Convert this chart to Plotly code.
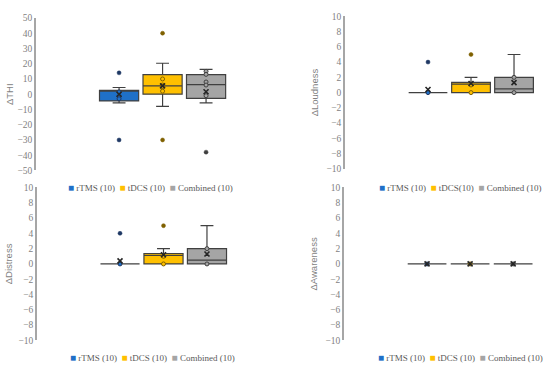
import plotly.graph_objects as go

# ---------------- data ----------------
groups = ["rTMS", "tDCS", "Combined"]
legend_labels_a = ["rTMS (10)", "tDCS (10)", "Combined (10)"]
legend_labels_b = ["rTMS (10)", "tDCS(10)", "Combined (10)"]

# ΔTHI
thi_q1 = [-4.4, 0.0, -2.7]
thi_median = [2.0, 5.5, 6.3]
thi_q3 = [2.6, 12.8, 12.8]
thi_low = [-5.7, -8.0, -5.7]
thi_up = [4.4, 20.3, 16.3]
thi_mean = [0.0, 5.5, 1.6]
thi_points = [[1.5, -1.5, -3.0], [10.0, 6.0, 5.0, 2.0], [15.0, 13.0, 8.0, 6.0, -1.0]]
thi_outliers = [[14.0, -30.0], [40.0, -30.0], [-38.0]]

# ΔLoudness
loud_q1 = [0.0, 0.0, 0.0]
loud_median = [0.0, 1.1, 0.5]
loud_q3 = [0.0, 1.35, 2.0]
loud_low = [0.0, 0.0, 0.0]
loud_up = [0.0, 2.0, 5.0]
loud_mean = [0.4, 1.2, 1.3]
loud_points = [[0.0], [0.0, 1.0], [0.0, 2.0]]
loud_outliers = [[4.0], [5.0], []]

# ΔDistress
dist_q1 = [0.0, 0.0, 0.0]
dist_median = [0.0, 1.1, 0.5]
dist_q3 = [0.0, 1.35, 2.0]
dist_low = [0.0, 0.0, 0.0]
dist_up = [0.0, 2.0, 5.0]
dist_mean = [0.4, 1.2, 1.3]
dist_points = [[0.0], [0.0, 1.0], [0.0, 2.0]]
dist_outliers = [[4.0], [5.0], []]

# ΔAwareness
aware_q1 = [0.0, 0.0, 0.0]
aware_median = [0.0, 0.0, 0.0]
aware_q3 = [0.0, 0.0, 0.0]
aware_low = [0.0, 0.0, 0.0]
aware_up = [0.0, 0.0, 0.0]
aware_mean = [0.0, 0.0, 0.0]
aware_points = [[0.0], [0.0], [0.0]]
aware_outliers = [[], [], []]

# ---------------- style ----------------
fill_colors = ["#1F70C8", "#FFC000", "#A5A5A5"]
dot_edge = ["#1F3864", "#7F6000", "#404040"]
box_line = "#404040"
axis_gray = "#A6A6A6"
text_gray = "#7F7F7F"
serif = "Liberation Serif"
sans = "Liberation Sans"

panels = [
    dict(title="ΔTHI", q1=thi_q1, med=thi_median, q3=thi_q3, lo=thi_low, up=thi_up,
         mean=thi_mean, pts=thi_points, out=thi_outliers, yr=[-50, 50], dt=10,
         xd=[36 / 550, 270 / 550], yd=[1 - 170 / 374, 1 - 13.3 / 374],
         xr=[-1.91, 3.47], leg=legend_labels_a, lx=66 / 550, ly=1 - 187 / 374, stand=2),
    dict(title="ΔLoudness", q1=loud_q1, med=loud_median, q3=loud_q3, lo=loud_low, up=loud_up,
         mean=loud_mean, pts=loud_points, out=loud_outliers, yr=[-10, 10], dt=2,
         xd=[345 / 550, 548 / 550], yd=[1 - 168.3 / 374, 1 - 11.7 / 374],
         xr=[-1.93, 2.79], leg=legend_labels_b, lx=377 / 550, ly=1 - 187 / 374, stand=6),
    dict(title="ΔDistress", q1=dist_q1, med=dist_median, q3=dist_q3, lo=dist_low, up=dist_up,
         mean=dist_mean, pts=dist_points, out=dist_outliers, yr=[-10, 10], dt=2,
         xd=[37 / 550, 270 / 550], yd=[1 - 344.7 / 374, 1 - 187.4 / 374],
         xr=[-1.91, 3.45], leg=legend_labels_a, lx=68 / 550, ly=1 - 362 / 374, stand=4),
    dict(title="ΔAwareness", q1=aware_q1, med=aware_median, q3=aware_q3, lo=aware_low, up=aware_up,
         mean=aware_mean, pts=aware_points, out=aware_outliers, yr=[-10, 10], dt=2,
         xd=[344 / 550, 548 / 550], yd=[1 - 344.7 / 374, 1 - 187.4 / 374],
         xr=[-1.93, 2.81], leg=legend_labels_a, lx=376 / 550, ly=1 - 362 / 374, stand=6),
]

fig = go.Figure()
layout_axes = {}
annotations = []

for i, p in enumerate(panels):
    n = "" if i == 0 else str(i + 1)
    xa, ya = "x" + n, "y" + n
    for j, g in enumerate(groups):
        fig.add_trace(go.Box(
            x=[g], q1=[p["q1"][j]], median=[p["med"][j]], q3=[p["q3"][j]],
            lowerfence=[p["lo"][j]], upperfence=[p["up"][j]],
            fillcolor=fill_colors[j], line=dict(color=box_line, width=1.2),
            whiskerwidth=0.33, width=0.9, boxpoints=False, showlegend=False,
            hoverinfo="skip", xaxis=xa, yaxis=ya))
        if p["pts"][j]:
            fig.add_trace(go.Scatter(
                x=[g] * len(p["pts"][j]), y=p["pts"][j], mode="markers",
                marker=dict(size=4, color=fill_colors[j], line=dict(color=dot_edge[j], width=1)),
                showlegend=False, hoverinfo="skip", xaxis=xa, yaxis=ya))
        if p["out"][j]:
            fig.add_trace(go.Scatter(
                x=[g] * len(p["out"][j]), y=p["out"][j], mode="markers",
                marker=dict(size=4, color=dot_edge[j], line=dict(color=dot_edge[j], width=0.5)),
                showlegend=False, hoverinfo="skip", xaxis=xa, yaxis=ya))
        fig.add_trace(go.Scatter(
            x=[g], y=[p["mean"][j]], mode="markers",
            marker=dict(symbol="x-thin", size=5, color="#262626",
                        line=dict(width=1.6, color="#262626")),
            showlegend=False, hoverinfo="skip", xaxis=xa, yaxis=ya))

    layout_axes["xaxis" + n] = dict(
        domain=p["xd"], anchor=ya, range=p["xr"], type="category",
        categoryorder="array", categoryarray=groups,
        showline=False, showticklabels=False, showgrid=False, zeroline=False, ticks="")
    layout_axes["yaxis" + n] = dict(
        domain=p["yd"], anchor=xa, range=p["yr"], dtick=p["dt"], tick0=0,
        showline=True, linecolor=axis_gray, linewidth=1.5, showgrid=False, zeroline=False,
        ticks="", tickfont=dict(family=serif, size=9.5, color=text_gray),
        title=dict(text=p["title"], font=dict(family=sans, size=9.5, color=text_gray),
                   standoff=p["stand"]))

    parts = []
    for j, lab in enumerate(p["leg"]):
        parts.append('<span style="color:%s;font-size:10px">■</span>\u00a0%s' % (fill_colors[j], lab))
    annotations.append(dict(
        text="\u00a0\u00a0".join(parts), x=p["lx"], y=p["ly"], xref="paper", yref="paper",
        xanchor="left", yanchor="middle", showarrow=False,
        font=dict(family=serif, size=9, color="#595959")))

fig.update_layout(
    width=550, height=374, margin=dict(l=0, r=0, t=0, b=0),
    paper_bgcolor="white", plot_bgcolor="white",
    boxmode="overlay", showlegend=False, annotations=annotations,
    **layout_axes)

fig.write_html("out.html", config={"displayModeBar": False},
               post_script="document.body.style.margin='0px';")
